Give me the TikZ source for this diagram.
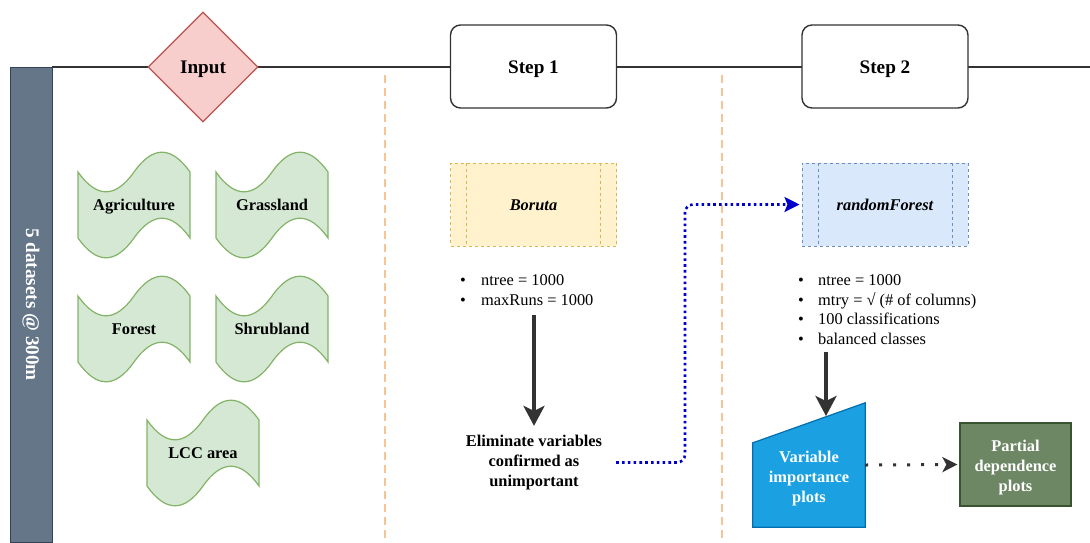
\documentclass[tikz,border=0pt]{standalone}
\usepackage{fontspec}
\setmainfont{Liberation Serif}
\usepackage{tikz}
\usetikzlibrary{arrows.meta, positioning, calc, shapes.geometric}
\definecolor{lanefill}{HTML}{647687}
\definecolor{lanedraw}{HTML}{314354}
\definecolor{inputfill}{HTML}{F8CECC}
\definecolor{inputdraw}{HTML}{B85450}
\definecolor{tapefill}{HTML}{D5E8D4}
\definecolor{tapedraw}{HTML}{82B366}
\definecolor{borutafill}{HTML}{FFF2CC}
\definecolor{borutadraw}{HTML}{D6B656}
\definecolor{rffill}{HTML}{DAE8FC}
\definecolor{rfdraw}{HTML}{6C8EBF}
\definecolor{vipfill}{HTML}{1BA1E2}
\definecolor{vipdraw}{HTML}{006EAF}
\definecolor{pdpfill}{HTML}{6D8764}
\definecolor{pdpdraw}{HTML}{3A5431}
\definecolor{sepline}{HTML}{F5C596}
\definecolor{darkline}{HTML}{333333}
\definecolor{linkblue}{HTML}{0000CC}
\newcommand{\bodysize}{\fontsize{16.4}{20}\selectfont}
\newcommand{\headsize}{\fontsize{19.2}{23}\selectfont}
% wavy data tape: name, centre, label
\newcommand{\landtape}[3]{%
  \begin{scope}[shift={#2}]
    \draw[tape] (-56,-33) .. controls (-37.3,-6.6) and (-18.7,-6.6) .. (0,-33)
      .. controls (18.7,-59.4) and (37.3,-59.4) .. (56,-33) -- (56,33)
      .. controls (37.3,6.6) and (18.7,6.6) .. (0,33)
      .. controls (-18.7,59.4) and (-37.3,59.4) .. (-56,33) -- cycle;
    \node[lbl, text height=11pt, text depth=0pt] (#1) at (0,0) {#3};
  \end{scope}}

\begin{document}
\begin{tikzpicture}[x=1pt, y=-1pt, >=Stealth,
  lbl/.style={font=\bodysize\bfseries, inner sep=0pt},
  tape/.style={draw=tapedraw, fill=tapefill, line width=1.2pt},
  head/.style={draw=darkline, fill=white, line width=1.4pt, rounded corners=10pt,
               minimum width=166pt, minimum height=83pt, font=\headsize\bfseries,
               text height=13pt, text depth=0pt},
  proc/.style={minimum width=166pt, minimum height=83pt, line width=1pt,
               dash pattern=on 3pt off 3pt, font=\bodysize\bfseries\itshape,
               text height=11pt, text depth=0pt},
  item/.style={anchor=west, inner sep=0pt, font=\bodysize, text height=11pt, text depth=4pt},
  flow/.style={draw=darkline, line width=4pt, -{Stealth[length=20pt, width=21pt, inset=5pt]}},
  bluelink/.style={draw=linkblue, line width=2.6pt, dash pattern=on 2.6pt off 3.2pt,
                   rounded corners=8pt, -{Stealth[length=15pt, width=15pt, inset=3pt]}},
  dotlink/.style={draw=darkline, line width=3pt, dash pattern=on 3pt off 11pt,
                  -{Stealth[length=15pt, width=15pt, inset=4pt]}},
  sep/.style={draw=sepline, line width=2pt, dash pattern=on 8pt off 5pt}]
  \useasboundingbox (0,0) rectangle (1090,542);

  % swimlane rail and column separators
  \coordinate (railL) at (52,67);
  \coordinate (railR) at (1090,67);
  \draw[darkline, line width=1.4pt] (railL) -- (railR);
  \coordinate (sepAtop) at (385,75);
  \coordinate (sepAbot) at (385,542);
  \coordinate (sepBtop) at (722,75);
  \coordinate (sepBbot) at (722,542);
  \draw[sep] (sepAtop) -- (sepAbot);
  \draw[sep] (sepBtop) -- (sepBbot);

  % lane title
  \node[fill=lanefill, draw=lanedraw, line width=1pt, text=white, font=\headsize\bfseries,
        minimum width=475pt, minimum height=42pt, inner sep=0pt, rotate=-90]
        (lane) at (31,304.5) {5 datasets @ 300m};

  % column heads
  \node[diamond, draw=inputdraw, fill=inputfill, line width=1.2pt, minimum width=110pt,
        minimum height=110pt, inner sep=0pt, font=\headsize\bfseries,
        text height=13pt, text depth=0pt] (input) at (203,67) {Input};
  \node[head] (step1) at (533.5,66.5) {Step 1};
  \node[head] (step2) at (885,66.5) {Step 2};

  % input datasets
  \landtape{agri}{(134,205)}{Agriculture}
  \landtape{grass}{(272,205)}{Grassland}
  \landtape{forest}{(134,329)}{Forest}
  \landtape{shrub}{(272,329)}{Shrubland}
  \landtape{lcc}{(203,453)}{LCC area}

  % step 1: Boruta
  \node[proc, fill=borutafill, draw=borutadraw] (boruta) at (533.5,204.5) {Boruta};
  \node[proc, fill=rffill, draw=rfdraw] (rf) at (885,204.5) {randomForest};
  \foreach \n/\c in {boruta/borutadraw, rf/rfdraw}{
    \draw[draw=\c, line width=1pt, dash pattern=on 3pt off 3pt]
      ([xshift=16.5pt]\n.north west) -- ([xshift=16.5pt]\n.south west);
    \draw[draw=\c, line width=1pt, dash pattern=on 3pt off 3pt]
      ([xshift=-16.5pt]\n.north east) -- ([xshift=-16.5pt]\n.south east);
  }
  \foreach \txt [count=\i] in {ntree = 1000, maxRuns = 1000}
    \node[item] (sa\i) at (460,{262.5+19.5*\i}) {\makebox[21pt][l]{\textbullet}\txt};
  \node[lbl, align=center, minimum width=164pt] (elim) at (534,462.5)
    {Eliminate variables\\confirmed as\\unimportant};
  \coordinate (s1top) at (534,315);
  \draw[flow, shorten >=9pt] (s1top) -- (elim.north);

  % hand over to step 2
  \coordinate (knee) at (685,300);
  \draw[bluelink, shorten >=2pt] (elim.east) -- (elim.east -| knee) |- (rf.west);

  % step 2: randomForest
  \foreach \txt [count=\i] in {ntree = 1000, mtry = √ (\# of columns), 100 classifications, balanced classes}
    \node[item] (sb\i) at (798,{262+19.8*\i}) {\makebox[20pt][l]{\textbullet}\txt};
  \node[minimum width=112pt, minimum height=124pt, inner sep=0pt] (vip) at (809,465) {};
  \draw[fill=vipfill, draw=vipdraw, line width=1.2pt] (vip.south west) -- (vip.south east)
    -- (vip.north east) -- ([yshift=-40pt]vip.north west) -- cycle;
  \node[lbl, text=white, align=center] (viptxt) at ([yshift=-14pt]vip.center)
    {Variable\\importance\\plots};
  \coordinate (s2top) at (826,352);
  \coordinate (vipin) at (826,416);
  \draw[flow] (s2top) -- (vipin);
  \node[fill=pdpfill, draw=pdpdraw, line width=1.2pt, minimum width=111pt,
        minimum height=83pt] (pdp) at (1015.5,464.5) {};
  \node[lbl, text=white, align=center] (pdptxt) at ([yshift=-3.5pt]pdp.center)
    {Partial\\dependence\\plots};
  \draw[dotlink, shorten >=2pt] (vip.east) -- (pdp.west);
\end{tikzpicture}
\end{document}
